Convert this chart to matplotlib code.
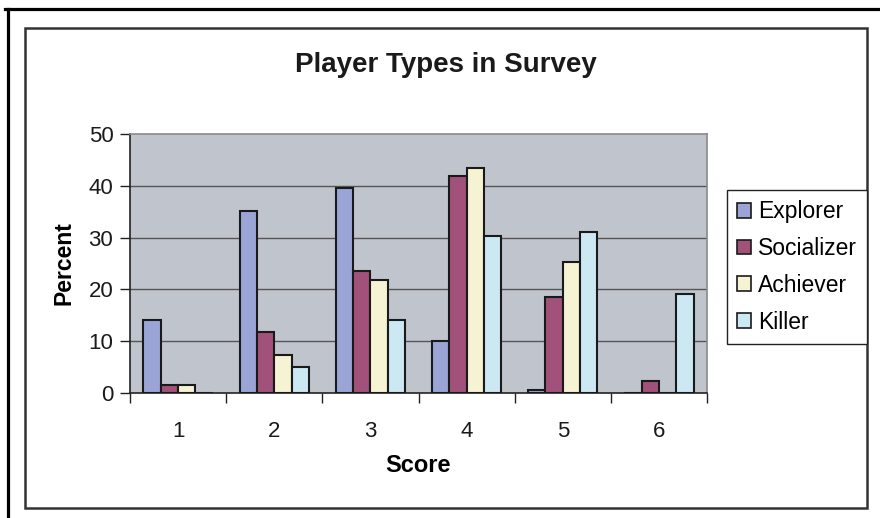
import numpy as np
import matplotlib
matplotlib.use("Agg")
import matplotlib.pyplot as plt
import matplotlib.patches as mpatches
from matplotlib.lines import Line2D

plt.rcParams['font.family'] = ['Liberation Sans', 'DejaVu Sans']

scores = [1, 2, 3, 4, 5, 6]
series_names = ['Explorer', 'Socializer', 'Achiever', 'Killer']
explorer = [14.1, 35.2, 39.5, 10.1, 0.6, 0.0]
socializer = [1.5, 11.8, 23.6, 41.8, 18.5, 2.3]
achiever = [1.5, 7.3, 21.9, 43.5, 25.3, 0.0]
killer = [0.0, 5.0, 14.1, 30.3, 31.0, 19.2]
colors = ['#9aa5d5', '#a2527a', '#f5f3d4', '#cbe8f3']

fig = plt.figure(figsize=(8.8, 5.18), dpi=100)

# outer page lines (top and left only)
fig.add_artist(Line2D([5 / 880, 1.0], [1 - 9 / 518, 1 - 9 / 518], color='black', lw=2.3))
fig.add_artist(Line2D([8 / 880, 8 / 880], [0.0, 1 - 9 / 518], color='black', lw=2.3))
# chart area border
fig.add_artist(mpatches.Rectangle((25 / 880, 10 / 518), 842 / 880, 480 / 518,
                                  fill=False, edgecolor='#333333', lw=1.8,
                                  transform=fig.transFigure))

ax = fig.add_axes([130 / 880, 125 / 518, 577 / 880, 259 / 518])
ax.set_facecolor('#c0c4cc')

width = 0.18
x = np.arange(1, 7)
all_series = [explorer, socializer, achiever, killer]
for i, (name, vals) in enumerate(zip(series_names, all_series)):
    offs = (i - 1.5) * width
    ax.bar(x + offs, vals, width=width, color=colors[i], edgecolor='#1a1a1a',
           linewidth=1.5, label=name, zorder=3)

ax.set_xlim(0.5, 6.5)
ax.set_ylim(0, 50)
ax.set_yticks(range(0, 51, 10))
ax.set_xticks(x)
ax.set_xticklabels([str(s) for s in scores])
ax.set_xticks(np.arange(0.5, 7, 1), minor=True)
ax.tick_params(axis='x', which='major', length=0, pad=20, labelsize=16, labelcolor='#1a1a1a')
ax.tick_params(axis='x', which='minor', length=7, width=1, color='#222222', direction='out')
ax.tick_params(axis='y', length=7, width=1, color='#222222', direction='out', pad=5,
               labelsize=16, labelcolor='#1a1a1a')

for y in range(10, 50, 10):
    ax.axhline(y, color='#555555', lw=1, zorder=1)

ax.spines['left'].set_color('#222222')
ax.spines['bottom'].set_color('#222222')
ax.spines['top'].set_color('#8a8a8a')
ax.spines['right'].set_color('#8a8a8a')
for s in ax.spines.values():
    s.set_linewidth(1.2)

ax.set_xlabel('Score', fontsize=17, fontweight='bold', labelpad=9)
ax.set_ylabel('Percent', fontsize=16.5, fontweight='bold', labelpad=9)

fig.text(446 / 880, 1 - 65 / 518, 'Player Types in Survey', ha='center', va='center',
         fontsize=20, fontweight='bold', color='#1a1a1a')

handles = [mpatches.Patch(facecolor=c, edgecolor='#1a1a1a', lw=1.2, label=n)
           for c, n in zip(colors, series_names)]
leg = fig.legend(handles=handles, loc='upper left', bbox_to_anchor=(727 / 880, 1 - 190 / 518),
                 fontsize=16.5, frameon=True, fancybox=False, framealpha=1,
                 handlelength=0.6, handleheight=0.6, handletextpad=0.3,
                 labelspacing=0.6, borderpad=0.45, borderaxespad=0)
leg.get_frame().set_edgecolor('#222222')
leg.get_frame().set_linewidth(1.0)

fig.savefig('out.png', dpi=100)
